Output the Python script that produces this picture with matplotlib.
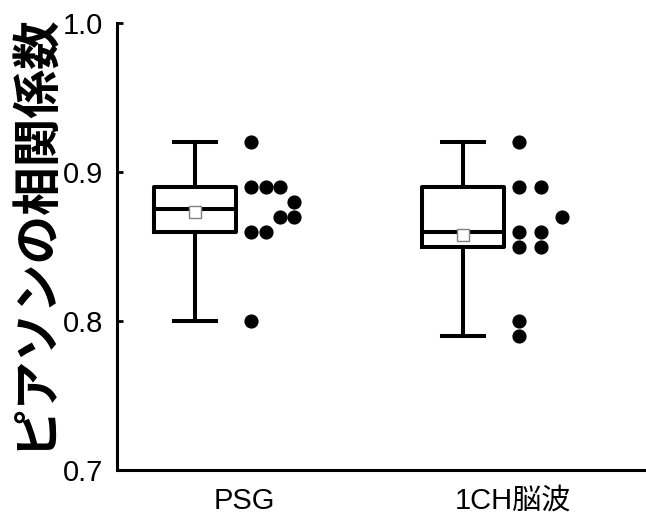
import numpy as np
import matplotlib
matplotlib.use("Agg")
import matplotlib.pyplot as plt

plt.rcParams["font.family"] = ["Liberation Sans", "Noto Sans CJK JP"]

# data (order within each 0.02 bin sets the dot column order)
groups = ["PSG", "1CH脳波"]
psg = [0.92, 0.89, 0.89, 0.89, 0.88, 0.86, 0.86, 0.87, 0.87, 0.80]
ch1 = [0.92, 0.89, 0.89, 0.86, 0.86, 0.87, 0.85, 0.85, 0.80, 0.79]
ylabel = "ピアソンの相関係数"
yticks = [0.7, 0.8, 0.9, 1.0]


def tukey_stats(v, label):
    s = np.sort(v); n = len(s)
    return dict(label=label, whislo=s[0], whishi=s[-1], med=np.median(s),
                q1=np.median(s[:(n + 1) // 2]), q3=np.median(s[n // 2:]),
                mean=np.mean(s), fliers=[])


def dot_columns(v):
    bins = [int(round(x * 100)) // 2 for x in v]
    cnt = {}; cols = []
    for b in bins:
        cols.append(cnt.get(b, 0)); cnt[b] = cnt.get(b, 0) + 1
    return np.array(cols)


fig = plt.figure(figsize=(6.46, 5.21), dpi=100)
ax = fig.add_axes([117 / 646, 51 / 521, 529 / 646, 447 / 521])

pos = np.array([1.0, 2.0])
stats = [tukey_stats(v, g) for v, g in zip([psg, ch1], groups)]
lw = 2.9
ax.bxp(stats, positions=pos, widths=0.306, showmeans=True, showfliers=False,
       boxprops=dict(color="black", lw=lw), whiskerprops=dict(color="black", lw=lw),
       capprops=dict(color="black", lw=lw), medianprops=dict(color="black", lw=lw),
       meanprops=dict(marker="s", markerfacecolor="white", markeredgecolor="#808080",
                      markeredgewidth=1.0, markersize=8.5),
       capwidths=0.157, manage_ticks=False)

for p, v in zip(pos, [psg, ch1]):
    cols = dot_columns(v)
    step = 0.16 / max(cols.max(), 1)
    ax.plot(p + 0.21 + cols * step, v, "o", color="black", ms=9.2, ls="none", clip_on=False)

ax.set_xlim(0.709, 2.683)
ax.set_ylim(0.7, 1.0)
ax.set_yticks(yticks)
ax.set_yticklabels([f"{t:.1f}" for t in yticks], fontsize=21)
ax.set_xticks(pos + 0.185)
ax.set_xticklabels(groups, fontsize=21)
ax.tick_params(axis="y", direction="in", length=4, width=2, pad=10)
ax.tick_params(axis="x", length=0, pad=12)
for s in ["top", "right"]:
    ax.spines[s].set_visible(False)
for s in ["left", "bottom"]:
    ax.spines[s].set_linewidth(2.2)

ax.text(-0.158, 0.535, ylabel, transform=ax.transAxes, rotation=90, ha="center",
        va="center", fontsize=35, weight="bold", family=["Noto Sans CJK JP"])

fig.savefig("out.png", dpi=100)
